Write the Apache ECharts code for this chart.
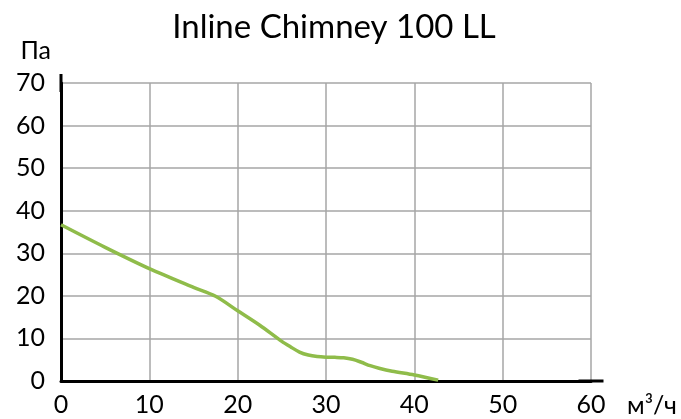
<!DOCTYPE html>
<html>
<head>
<meta charset="utf-8">
<script src="https://cdn.jsdelivr.net/npm/echarts@6/dist/echarts.min.js"></script>
<style>html,body{margin:0;padding:0;background:#fff;}#c{width:681px;height:419px;}</style>
</head>
<body>
<div id="c"></div>
<script>
const titleText = 'Inline Chimney 100 LL';
const xUnit = 'м³/ч';
const yUnit = 'Па';
const flowX = [0, 5, 10, 15, 17.5, 20, 22.5, 25, 26, 27, 28, 29, 30, 31, 32, 33, 34, 35, 36, 37.5, 40, 42.7];
const pressureY = [36.7, 31.4, 26.4, 22.0, 19.9, 16.5, 13.1, 9.3, 8.0, 6.8, 6.1, 5.75, 5.6, 5.55, 5.45, 5.1, 4.4, 3.6, 3.0, 2.3, 1.4, 0.2];

const FONT = 'Lato';
const chart = echarts.init(document.getElementById('c'), null, {renderer: 'canvas'});
chart.setOption({
  animation: false,
  backgroundColor: '#fff',
  title: {
    text: titleText, left: 329, top: 6, textAlign: 'center',
    textStyle: {fontFamily: FONT, fontWeight: 400, fontSize: 33, color: '#000'}
  },
  grid: {left: 61, right: 90, top: 83, bottom: 38, containLabel: false},
  xAxis: {
    type: 'value', min: 0, max: 60, interval: 10,
    name: xUnit, nameLocation: 'end', nameGap: 36,
    nameTextStyle: {fontFamily: FONT, fontWeight: 400, fontSize: 25, color: '#000', align: 'left', verticalAlign: 'top', padding: [12, 0, 0, 0]},
    axisLine: {show: true, lineStyle: {color: '#000', width: 3}, symbol: ['none', 'rect'], symbolSize: [3, 25]},
    axisTick: {show: false},
    axisLabel: {fontFamily: FONT, fontWeight: 400, fontSize: 25, color: '#000', margin: 11},
    splitLine: {show: true, lineStyle: {color: '#a6a6a6', width: 1.5}}
  },
  yAxis: {
    type: 'value', min: 0, max: 70, interval: 10,
    name: yUnit, nameLocation: 'end', nameGap: 20,
    nameTextStyle: {fontFamily: FONT, fontWeight: 400, fontSize: 25, color: '#000', align: 'right', padding: [0, 10, 0, 0]},
    axisLine: {show: true, lineStyle: {color: '#000', width: 3}, symbol: ['none', 'rect'], symbolSize: [3, 18]},
    axisTick: {show: false},
    axisLabel: {fontFamily: FONT, fontWeight: 400, fontSize: 25, color: '#000', margin: 16, padding: [8, 0, 0, 0]},
    splitLine: {show: true, lineStyle: {color: '#a6a6a6', width: 1.5}}
  },
  series: [{
    type: 'line',
    data: flowX.map((x, i) => [x, pressureY[i]]),
    smooth: 0.3,
    showSymbol: false,
    lineStyle: {color: '#8fbc4a', width: 3.5},
    z: 5
  }]
});
</script>
</body>
</html>
